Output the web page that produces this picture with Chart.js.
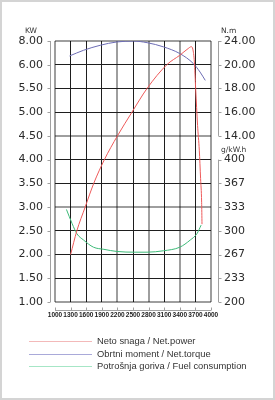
<!DOCTYPE html>
<html><head><meta charset="utf-8">
<script src="https://cdn.jsdelivr.net/npm/chart.js@4/dist/chart.umd.min.js"></script>
<style>
html,body{margin:0;padding:0;background:#fff;}
#wrap{position:relative;width:275px;height:400px;overflow:hidden;}
#c{position:absolute;left:0;top:0;}
#frame{position:absolute;left:0;top:0;width:275px;height:400px;box-sizing:border-box;border:2px solid #d4d4d4;pointer-events:none;}
#legend{position:absolute;left:0;top:335px;width:275px;font-family:"Liberation Sans",Arial,sans-serif;font-size:9.4px;color:#333;}
.row{position:relative;height:12.6px;}
.ln{position:absolute;left:29px;top:6px;width:63px;height:1px;}
.tx{position:absolute;left:97px;top:0;line-height:12.6px;white-space:nowrap;}
</style>
</head><body>
<div id="wrap"><canvas id="c" width="275" height="400"></canvas><div id="legend"></div><div id="frame"></div></div>
<script>
// ---- data ----
const rpmTicks = [1000,1300,1600,1900,2200,2500,2800,3100,3400,3700,4000];
const leftLabels = ['1.00','1.50','2.00','2.50','3.00','3.50','4.00','4.50','5.00','5.50','6.00','8.00'];
const rightLabels = ['200','233','267','300','333','367','400','14.00','16.00','18.00','20.00','24.00'];
const unitLabels = ['KW','N.m','g/kW.h'];
const seriesNames = ['Neto snaga / Net.power','Obrtni moment / Net.torque','Potrošnja goriva / Fuel consumption'];

const powerRpm = [1300,1420,1580,1745,1950,2200,2480,2770,3150,3400,3560,3620,3650,3680,3705,3742,3775,3800,3820,3827];
const powerKw  = [2.00,2.50,3.00,3.50,4.00,4.50,5.00,5.50,6.00,6.20,6.34,6.38,6.33,6.06,5.50,4.72,4.20,3.60,3.10,2.64];

const torqueRpm = [1280,1550,1870,2190,2510,2770,3090,3400,3660,3790,3890];
const torqueNm  = [20.74,21.22,21.64,21.92,21.99,21.86,21.50,20.94,20.10,19.38,18.68];

const fuelRpm = [1220,1330,1420,1550,1740,1940,2190,2540,2770,3090,3400,3600,3730,3810];
const fuelGkwh = [330,310,296,287,277,274,271,270,270,272,277,287,296,308];

const lineColors = ['#ee5a5a','#6c6cb4','#3dba78'];
const legendColors = ['#f3b9b9','#a9a9d9','#a6e6c6'];

const pts = (xs, ys) => xs.map((x,i)=>({x:x, y:ys[i]}));

const greyX = [0,4,6,8,10];
const greyY = [0,4,7,11];

const axisDeco = {
  id:'axisDeco',
  afterDraw(chart){
    const {ctx, chartArea:a, scales} = chart;
    const yl = scales.yL, yr = scales.yR, xs = scales.x;
    ctx.save();
    ctx.strokeStyle = '#a0a0a0';
    ctx.lineWidth = 1;
    ctx.beginPath();
    // left axis
    const lx = Math.round(a.left - 5) + 0.5;
    ctx.moveTo(lx, a.top); ctx.lineTo(lx, a.bottom);
    yl.ticks.forEach((t,i)=>{const y = Math.round(yl.getPixelForValue(t.value)) + 0.5; ctx.moveTo(lx, y); ctx.lineTo(lx-3, y);});
    // right axis (two segments)
    const rx = Math.round(a.right + 7) + 0.5;
    ctx.moveTo(rx, yr.getPixelForValue(11)); ctx.lineTo(rx, yr.getPixelForValue(7));
    ctx.moveTo(rx, yr.getPixelForValue(6)); ctx.lineTo(rx, yr.getPixelForValue(0));
    yr.ticks.forEach((t)=>{const y = Math.round(yr.getPixelForValue(t.value)) + 0.5; ctx.moveTo(rx, y); ctx.lineTo(rx+3, y);});
    // bottom axis
    const by = Math.round(a.bottom + 8) + 0.5;
    ctx.moveTo(a.left, by); ctx.lineTo(a.right, by);
    xs.ticks.forEach((t)=>{const x = Math.round(xs.getPixelForValue(t.value)) + 0.5; ctx.moveTo(x, by); ctx.lineTo(x, by-3);});
    ctx.stroke();
    // unit titles
    ctx.fillStyle = '#333';
    ctx.font = '7.5px "DejaVu Sans", sans-serif';
    ctx.textBaseline = 'middle';
    ctx.textAlign = 'center';
    ctx.fillText(unitLabels[0], a.left - 24, a.top - 10);
    ctx.textAlign = 'left';
    ctx.fillText(unitLabels[1], a.right + 10, a.top - 10);
    ctx.fillText(unitLabels[2], a.right + 10, (yr.getPixelForValue(6) + yr.getPixelForValue(7)) / 2 + 2);
    ctx.restore();
  }
};

const tickFont = {family:'"DejaVu Sans", sans-serif', size:11};

new Chart(document.getElementById('c'), {
  type:'line',
  data:{
    datasets:[
      {label:seriesNames[0], data:pts(powerRpm,powerKw), yAxisID:'yP', borderColor:lineColors[0], borderWidth:1, pointRadius:0, cubicInterpolationMode:'monotone', fill:false},
      {label:seriesNames[1], data:pts(torqueRpm,torqueNm), yAxisID:'yT', borderColor:lineColors[1], borderWidth:1, pointRadius:0, cubicInterpolationMode:'monotone', fill:false},
      {label:seriesNames[2], data:pts(fuelRpm,fuelGkwh), yAxisID:'yF', borderColor:lineColors[2], borderWidth:1, pointRadius:0, cubicInterpolationMode:'monotone', fill:false}
    ]
  },
  options:{
    responsive:false,
    animation:false,
    events:[],
    layout:{padding:{top:41,bottom:70,left:0,right:0}},
    plugins:{legend:{display:false}, tooltip:{enabled:false}, title:{display:false}},
    scales:{
      x:{
        type:'linear', position:'bottom', min:1000, max:4000,
        afterBuildTicks:(s)=>{s.ticks = rpmTicks.map(v=>({value:v}));},
        afterFit:(s)=>{s.height = 28;},
        ticks:{autoSkip:false, maxRotation:0, minRotation:0, padding:9, color:'#222',
               font:{family:'"Liberation Sans", Arial, sans-serif', size:6.5, weight:'bold'},
               callback:(v,i)=>String(rpmTicks[i])},
        grid:{drawTicks:false, color:(c)=>greyX.includes(c.index)?'rgba(0,0,0,0.38)':'#1e1e1e', lineWidth:(c)=>greyX.includes(c.index)?2:1},
        border:{display:false}
      },
      yL:{
        type:'linear', position:'left', min:0, max:11,
        afterBuildTicks:(s)=>{s.ticks = leftLabels.map((_,i)=>({value:i}));},
        afterFit:(s)=>{s.width = 55;},
        ticks:{padding:12, color:'#2a2a2a', font:tickFont, callback:(v,i)=>leftLabels[i]},
        grid:{drawTicks:false, color:(c)=>greyY.includes(c.index)?'rgba(0,0,0,0.38)':'#1e1e1e', lineWidth:(c)=>greyY.includes(c.index)?2:1},
        border:{display:false}
      },
      yR:{
        type:'linear', position:'right', min:0, max:11,
        afterBuildTicks:(s)=>{s.ticks = rightLabels.map((_,i)=>({value:i}));},
        afterFit:(s)=>{s.width = 64;},
        ticks:{padding:13, color:'#2a2a2a', font:tickFont, callback:(v,i)=>rightLabels[i]},
        grid:{display:false, drawTicks:false},
        border:{display:false}
      },
      yP:{type:'linear', display:false, min:1, max:6.5},
      yT:{type:'linear', display:false, min:0, max:22},
      yF:{type:'linear', display:false, min:200, max:200 + 11*100/3}
    }
  },
  plugins:[axisDeco]
});

// legend (HTML)
const lg = document.getElementById('legend');
seriesNames.forEach((n,i)=>{
  const r = document.createElement('div'); r.className='row';
  const l = document.createElement('span'); l.className='ln'; l.style.background = legendColors[i];
  const t = document.createElement('span'); t.className='tx'; t.textContent = n;
  r.appendChild(l); r.appendChild(t); lg.appendChild(r);
});
</script>
</body></html>
